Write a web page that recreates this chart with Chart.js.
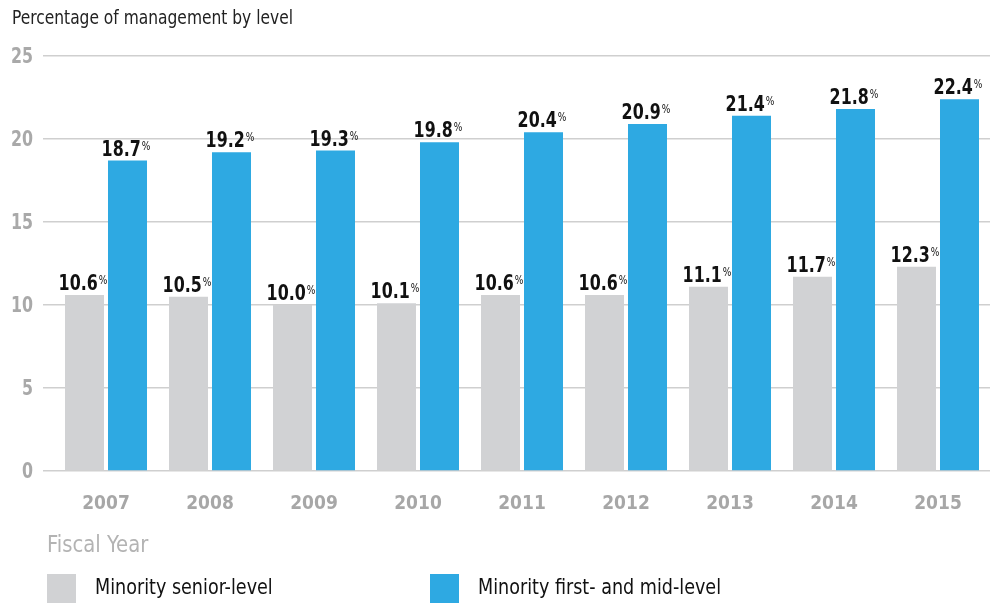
<!DOCTYPE html>
<html>
<head>
<meta charset="utf-8">
<script src="https://cdn.jsdelivr.net/npm/chart.js@4/dist/chart.umd.min.js"></script>
<style>
  html, body { margin: 0; padding: 0; background: #fff; }
  body { width: 996px; height: 603px; position: relative; overflow: hidden;
         font-family: 'DejaVu Sans Condensed', sans-serif; }
  #chart { position: absolute; left: 0; top: 0; }
  .title { position: absolute; left: 12px; top: 5px; font-size: 20px; color: #222;
           transform: scaleX(0.86); transform-origin: left top; white-space: nowrap; }
  .axis-name { position: absolute; left: 47px; top: 531px; font-size: 23px; color: #b3b3b3;
               transform: scaleX(0.95); transform-origin: left top; white-space: nowrap; }
  .legend { position: absolute; top: 574px; font-size: 21px; color: #111; }
  .legend span.box { position: absolute; left: 0; top: 0; width: 29px; height: 29px; }
  .legend span.lbl { position: absolute; left: 48px; top: 1px; white-space: nowrap;
                     transform: scaleX(0.93); transform-origin: left top; }
</style>
</head>
<body>
<canvas id="chart" width="996" height="603"></canvas>
<div class="title">Percentage of management by level</div>
<div class="axis-name">Fiscal Year</div>
<div class="legend" style="left:47px"><span class="box" style="background:#d1d2d4"></span><span class="lbl">Minority senior-level</span></div>
<div class="legend" style="left:430px"><span class="box" style="background:#2ea9e2"></span><span class="lbl">Minority first- and mid-level</span></div>
<script>
var years = ['2007', '2008', '2009', '2010', '2011', '2012', '2013', '2014', '2015'];
var seniorLevel = [10.6, 10.5, 10.0, 10.1, 10.6, 10.6, 11.1, 11.7, 12.3];
var firstMidLevel = [18.7, 19.2, 19.3, 19.8, 20.4, 20.9, 21.4, 21.8, 22.4];
var yTicks = [0, 5, 10, 15, 20, 25];

var FONT = "'DejaVu Sans Condensed', sans-serif";
var SQUEEZE = 0.84;

// value labels with a small raised % sign, plus narrow y tick labels
var valueLabels = {
  id: 'valueLabels',
  afterDraw: function (chart) {
    var ctx = chart.ctx;
    ctx.save();
    ctx.textBaseline = 'alphabetic';
    chart.data.datasets.forEach(function (ds, i) {
      chart.getDatasetMeta(i).data.forEach(function (bar, j) {
        var num = ds.data[j].toFixed(1);
        ctx.font = 'bold 21px ' + FONT;
        var w1 = ctx.measureText(num).width * SQUEEZE;
        ctx.font = '12px ' + FONT;
        var w2 = ctx.measureText('%').width * SQUEEZE;
        var x = bar.x - (w1 + w2) / 2 - 2;
        var y = bar.y - 5;
        ctx.fillStyle = '#111';
        ctx.textAlign = 'left';
        ctx.save();
        ctx.translate(x, y);
        ctx.scale(SQUEEZE, 1);
        ctx.font = 'bold 21px ' + FONT;
        ctx.fillText(num, 0, 0);
        ctx.restore();
        ctx.save();
        ctx.translate(x + w1 + 1, y - 6);
        ctx.scale(SQUEEZE, 1);
        ctx.font = '12px ' + FONT;
        ctx.fillText('%', 0, 0);
        ctx.restore();
      });
    });
    var ys = chart.scales.y;
    ctx.fillStyle = '#a9a9a9';
    ctx.textAlign = 'right';
    ctx.textBaseline = 'middle';
    yTicks.forEach(function (v) {
      ctx.save();
      ctx.translate(33, ys.getPixelForValue(v) + 1);
      ctx.scale(0.8, 1);
      ctx.font = 'bold 22px ' + FONT;
      ctx.fillText(String(v), 0, 0);
      ctx.restore();
    });
    ctx.restore();
  }
};

new Chart(document.getElementById('chart'), {
  type: 'bar',
  data: {
    labels: years,
    datasets: [
      { label: 'Minority senior-level', data: seniorLevel, backgroundColor: '#d1d2d4',
        barPercentage: 0.907, categoryPercentage: 0.827 },
      { label: 'Minority first- and mid-level', data: firstMidLevel, backgroundColor: '#2ea9e2',
        barPercentage: 0.907, categoryPercentage: 0.827 }
    ]
  },
  options: {
    responsive: false,
    animation: false,
    layout: { padding: { top: 56, right: 6, left: 0, bottom: 0 } },
    plugins: { legend: { display: false }, tooltip: { enabled: false } },
    scales: {
      x: {
        grid: { display: false },
        border: { display: false },
        ticks: { color: '#a7a7a7', padding: 14, font: { family: FONT, size: 19, weight: 'bold' } },
        afterFit: function (s) { s.height = 132; }
      },
      y: {
        min: 0, max: 25,
        afterBuildTicks: function (s) { s.ticks = yTicks.map(function (v) { return { value: v }; }); },
        grid: { color: '#cfcfcf', lineWidth: 1.5, tickLength: 11 },
        border: { display: false },
        ticks: { display: false },
        afterFit: function (s) { s.width = 54; }
      }
    }
  },
  plugins: [valueLabels]
});
</script>
</body>
</html>
